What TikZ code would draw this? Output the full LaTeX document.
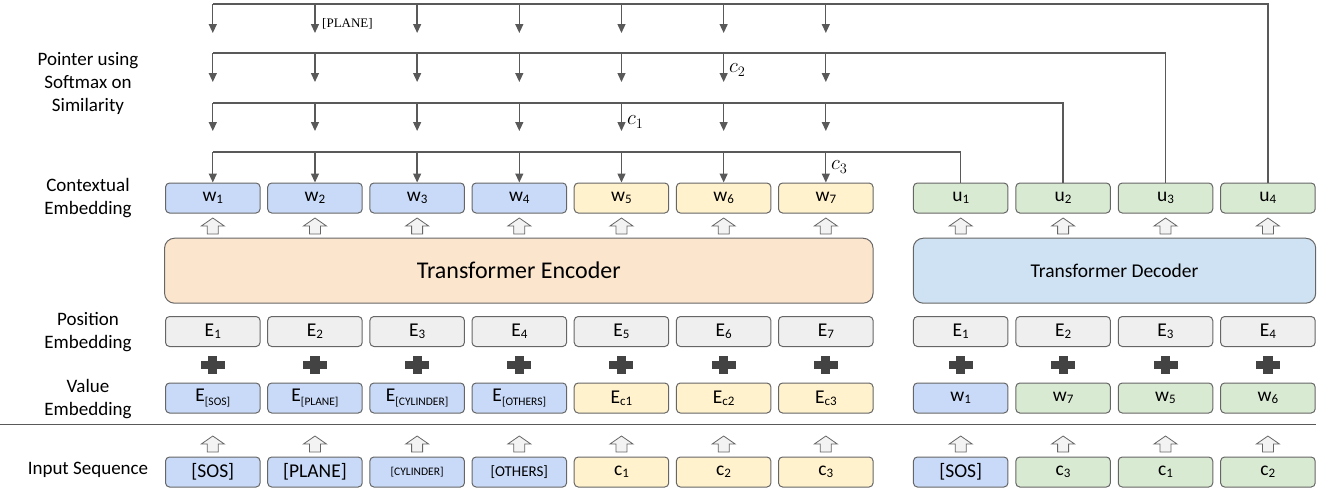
\documentclass[tikz,border=0pt]{standalone}
\usepackage{fontspec}
\setmainfont{Carlito}
\newfontfamily\timesf{Liberation Serif}
\usetikzlibrary{arrows.meta}
\definecolor{bl}{HTML}{C9DAF8}
\definecolor{yl}{HTML}{FFF2CC}
\definecolor{gr}{HTML}{D9EAD3}
\definecolor{gy}{HTML}{EFEFEF}
\definecolor{encc}{HTML}{FCE5CD}
\definecolor{decc}{HTML}{CFE2F3}
\definecolor{bd}{HTML}{666666}
\definecolor{ln}{HTML}{595959}
\definecolor{plusc}{HTML}{434343}
\definecolor{hol}{HTML}{F3F3F3}
\newcommand{\sbx}[1]{\raisebox{-0.25ex}{\fontsize{13}{13}\selectfont #1}}
\newcommand{\sbs}[1]{\raisebox{-0.45ex}{\fontsize{11.5}{12}\selectfont #1}}
\tikzset{
  tok/.style={draw=bd, line width=1pt, rounded corners=4pt, minimum width=94.5pt,
    minimum height=30pt, inner sep=0pt, font=\fontsize{19.5}{22}\selectfont},
  big/.style={draw=bd, line width=1pt, rounded corners=10pt, minimum height=65pt, inner sep=0pt},
  pline/.style={draw=ln, line width=1.3pt},
  ptr/.style={draw=ln, line width=1.3pt, -{Triangle[length=9pt,width=8pt]}},
  lab/.style={align=center, font=\fontsize{19}{23}\selectfont},
  hup/.pic={\filldraw[fill=hol, draw=bd, line width=0.8pt] (0,-8) -- (11.5,0) -- (5.5,0) -- (5.5,8) -- (-5.5,8) -- (-5.5,0) -- (-11.5,0) -- cycle;},
  pls/.pic={\fill[plusc] (-12,-4.2) rectangle (12,4.2); \fill[plusc] (-4.6,-8.6) rectangle (4.6,8.6);}
}
\begin{document}
\begin{tikzpicture}[x=1pt,y=-1pt]
\useasboundingbox (0,0) rectangle (1320,488);
% left labels
\node[lab] (lp) at (88,83) {Pointer using\\Softmax on\\Similarity};
\node[lab] (lc) at (88,198) {Contextual\\Embedding};
\node[lab] (lpos) at (88,332) {Position\\Embedding};
\node[lab] (lv) at (88,399) {Value\\Embedding};
\node[lab] (li) at (88,470) {Input Sequence};
% encoder columns
\foreach \i/\c/\t in {1/bl/{w\sbx{1}},2/bl/{w\sbx{2}},3/bl/{w\sbx{3}},4/bl/{w\sbx{4}},5/yl/{w\sbx{5}},6/yl/{w\sbx{6}},7/yl/{w\sbx{7}}}{
  \pgfmathsetmacro\x{212.8+102.17*(\i-1)}
  \node[tok, fill=\c] (w\i) at (\x,198) {\t};
  \node[tok, fill=gy] (pe\i) at (\x,331.5) {E\sbx{\i}};
  \pic at (\x,226) {hup};
  \pic at (\x,365) {pls};
  \pic at (\x,444) {hup};
}
\foreach \i/\c/\t in {1/bl/{E\sbs{[SOS]}},2/bl/{E\sbs{[PLANE]}},3/bl/{E\sbs{[CYLINDER]}},4/bl/{E\sbs{[OTHERS]}},5/yl/{E\sbx{c1}},6/yl/{E\sbx{c2}},7/yl/{E\sbx{c3}}}{
  \pgfmathsetmacro\x{212.8+102.17*(\i-1)}
  \node[tok, fill=\c] (v\i) at (\x,398) {\t};
}
\foreach \i/\c/\t in {1/bl/{[SOS]},2/bl/{[PLANE]},3/bl/{\fontsize{11.5}{12}\selectfont[CYLINDER]},4/bl/{\fontsize{15}{18}\selectfont[OTHERS]},5/yl/{c\sbx{1}},6/yl/{c\sbx{2}},7/yl/{c\sbx{3}}}{
  \pgfmathsetmacro\x{212.8+102.17*(\i-1)}
  \node[tok, fill=\c] (in\i) at (\x,472) {\t};
}
% decoder columns
\foreach \i/\c/\t/\vc/\vt/\ic/\it in {1/gr/{u\sbx{1}}/bl/{w\sbx{1}}/bl/{[SOS]},2/gr/{u\sbx{2}}/gr/{w\sbx{7}}/gr/{c\sbx{3}},3/gr/{u\sbx{3}}/gr/{w\sbx{5}}/gr/{c\sbx{1}},4/gr/{u\sbx{4}}/gr/{w\sbx{6}}/gr/{c\sbx{2}}}{
  \pgfmathsetmacro\x{960.7+102.4*(\i-1)}
  \node[tok, fill=\c] (u\i) at (\x,198) {\t};
  \node[tok, fill=gy] (dpe\i) at (\x,331.5) {E\sbx{\i}};
  \node[tok, fill=\vc] (dv\i) at (\x,398) {\vt};
  \node[tok, fill=\ic] (din\i) at (\x,472) {\it};
  \pic at (\x,226) {hup};
  \pic at (\x,365) {pls};
  \pic at (\x,444) {hup};
}
% transformers
\node[big, fill=encc, minimum width=708.5pt, font=\fontsize{24}{28}\selectfont] (enc) at (518.8,270.7) {Transformer Encoder};
\node[big, fill=decc, minimum width=402.4pt, font=\fontsize{19.5}{23}\selectfont] (dec) at (1114.5,270.7) {Transformer Decoder};
% separator
\draw[ln, line width=1pt] (0,424.3) -- (1315.5,424.3);
% pointer lines
\foreach \r/\y/\e/\u in {1/4/33/4,2/53/82/3,3/103/131/2}{
  \coordinate (h\r) at (212.8,\y);
  \draw[pline] (u\u.north) |- (h\r);
  \foreach \i in {1,...,7}{
    \pgfmathsetmacro\x{212.8+102.17*(\i-1)}
    \coordinate (t\r-\i) at (\x,\y);
    \coordinate (a\r-\i) at (\x,\e);
    \draw[ptr] (t\r-\i) -- (a\r-\i);
  }
}
\coordinate (h4) at (212.8,152);
\draw[pline] (u1.north) |- (h4);
\foreach \i in {1,...,7}{
  \pgfmathsetmacro\x{212.8+102.17*(\i-1)}
  \coordinate (t4-\i) at (\x,152);
  \draw[ptr] (t4-\i) -- (w\i.north);
}
% labels
\node[anchor=west, inner sep=0pt, font=\timesf\fontsize{13}{15}\selectfont] (lplane) at (322,24) {[PLANE]};
\node[anchor=west, inner sep=0pt, font=\fontsize{21}{24}\selectfont] (lc2) at (729,70) {$c_2$};
\node[anchor=west, inner sep=0pt, font=\fontsize{21}{24}\selectfont] (lc1) at (627,122) {$c_1$};
\node[anchor=west, inner sep=0pt, font=\fontsize{21}{24}\selectfont] (lc3) at (831,167) {$c_3$};
\end{tikzpicture}
\end{document}
